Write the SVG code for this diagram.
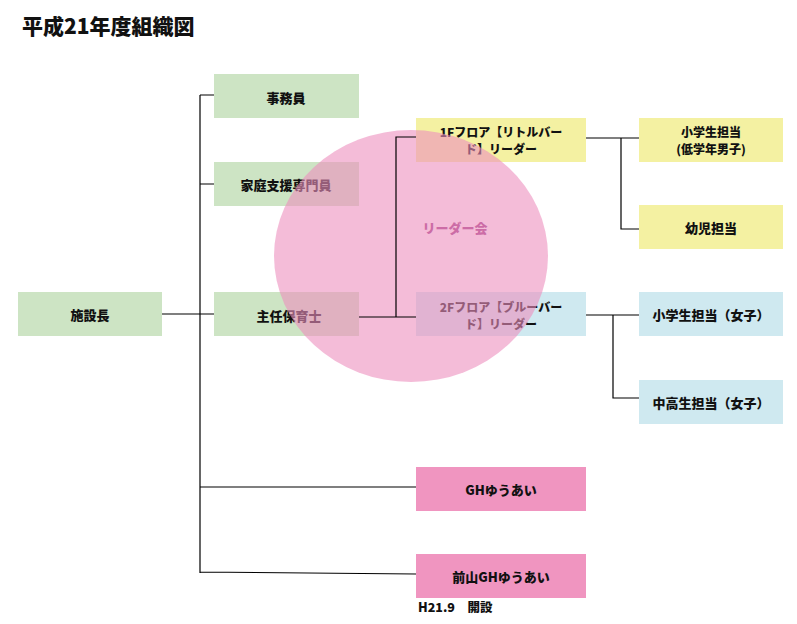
<svg xmlns="http://www.w3.org/2000/svg" width="797" height="624" viewBox="0 0 797 624">
<style>
text{font-family:"Noto Sans CJK JP","Noto Sans",sans-serif;font-weight:900;fill:#111}
.t{font-size:13px;text-anchor:middle;dominant-baseline:central}
.t2{font-size:12px;text-anchor:middle;dominant-baseline:central}
.g{fill:#CDE4C4}.y{fill:#F4F1A2}.b{fill:#CFE9F0}.p{fill:#F095C0}
.c{stroke:#000;stroke-width:1.2;fill:none}
</style>
<rect width="797" height="624" fill="#fff"/>
<text x="22" y="34" style="font-size:21px">平成21年度組織図</text>
<g id="n-shisetsucho"><rect class="g" x="18" y="292" width="144" height="44"/><text class="t" x="90" y="314">施設長</text></g>
<g id="n-jimuin"><rect class="g" x="214" y="74" width="145" height="44"/><text class="t" x="286" y="97">事務員</text></g>
<g id="n-katei"><rect class="g" x="214" y="162" width="145" height="44"/><text class="t" x="286" y="184">家庭支援専門員</text></g>
<g id="n-shunin"><rect class="g" x="214" y="292" width="145" height="44"/><text class="t" x="289" y="315">主任保育士</text></g>
<g id="n-1f"><rect class="y" x="416" y="118" width="170" height="44"/><text class="t2" x="501" y="131">1Fフロア【リトルバー</text><text class="t2" x="501" y="148">ド】リーダー</text></g>
<g id="n-2f"><rect class="b" x="416" y="292" width="170" height="44"/><text class="t2" x="501" y="306">2Fフロア【ブルーバー</text><text class="t2" x="501" y="323">ド】リーダー</text></g>
<g id="n-sho1"><rect class="y" x="639" y="118" width="144" height="44"/><text class="t2" x="711" y="131">小学生担当</text><text class="t2" x="711" y="148">(低学年男子)</text></g>
<g id="n-yoji"><rect class="y" x="639" y="205" width="144" height="44"/><text class="t" x="711" y="227">幼児担当</text></g>
<g id="n-sho2"><rect class="b" x="639" y="292" width="144" height="44"/><text class="t" x="711" y="314">小学生担当（女子）</text></g>
<g id="n-chuko"><rect class="b" x="639" y="380" width="144" height="44"/><text class="t" x="711" y="402">中高生担当（女子）</text></g>
<g id="n-gh"><rect class="p" x="416" y="467" width="170" height="44"/><text class="t" x="501" y="489">GHゆうあい</text></g>
<g id="n-maeyama"><rect class="p" x="416" y="554" width="170" height="44"/><text class="t" x="501" y="576">前山GHゆうあい</text></g>
<text x="418" y="612" style="font-size:12.5px">H21.9　開設</text>
<g id="leader-kai"><ellipse cx="411" cy="256" rx="137" ry="126" fill="#ED8FBE" fill-opacity="0.6"/></g>
<g id="connectors">
<path class="c" d="M200 95V573M200 95H214M200 184H214M162 314H214M200 487H416M200 572L416 574"/>
<path class="c" d="M359 317H416M396 317V137H416"/>
<path class="c" d="M586 138H639M621 138V229H639"/>
<path class="c" d="M586 315H639M613 315V398H639"/>
</g>
<text x="455" y="227" style="font-size:13px;fill:#CC6CA6;text-anchor:middle;dominant-baseline:central">リーダー会</text>
</svg>
